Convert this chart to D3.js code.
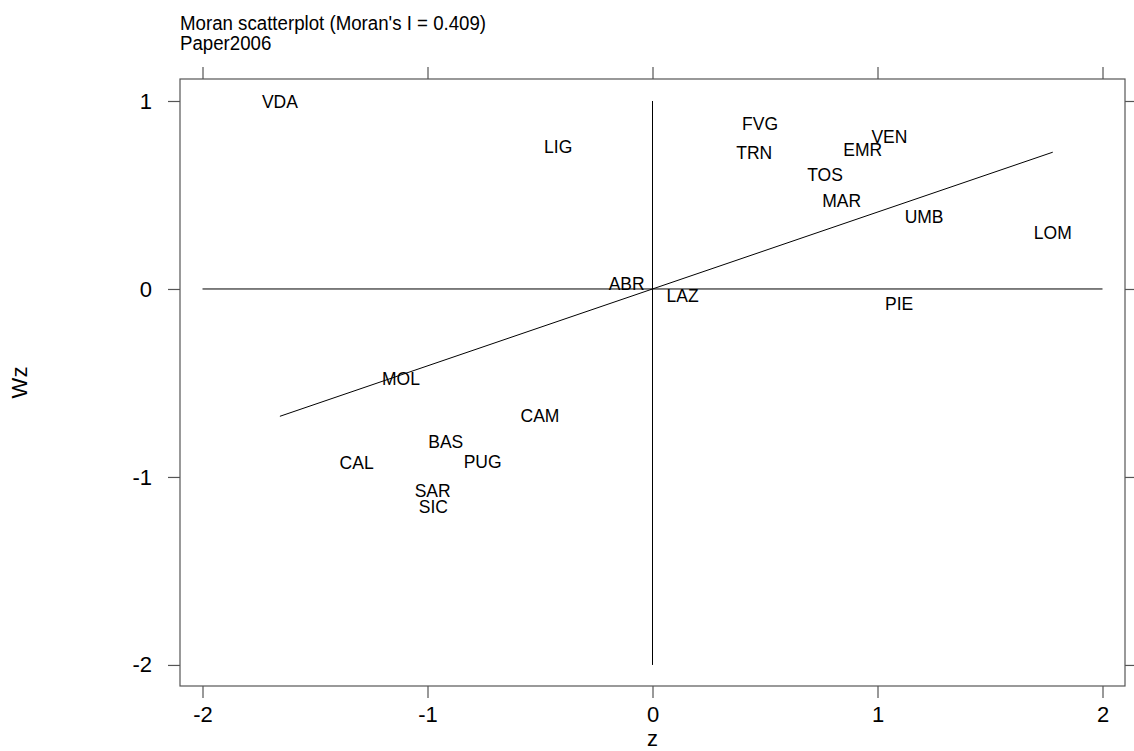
<!DOCTYPE html>
<html>
<head>
<meta charset="utf-8">
<script src="https://cdn.jsdelivr.net/npm/d3@7"></script>
<style>
  html, body { margin: 0; padding: 0; background: #ffffff; }
  svg { display: block; font-family: "Liberation Sans", Arial, Helvetica, sans-serif; }
  .frame { fill: none; stroke: #555555; stroke-width: 1.2; }
  .axis path { display: none; }
  .axis line { stroke: #555555; stroke-width: 1.2; }
  .axis text { fill: #000000; font-size: 22px; font-family: "Liberation Sans", Arial, sans-serif; }
</style>
</head>
<body>
<svg id="chart" width="1134" height="751"></svg>
<script>
// Region codes and their standardised values (z) with the spatial lag (Wz)
const regions = ["VDA", "LIG", "FVG", "TRN", "VEN", "EMR", "TOS", "MAR", "UMB", "LOM",
                 "PIE", "ABR", "LAZ", "MOL", "CAM", "BAS", "PUG", "CAL", "SAR", "SIC"];
const zValues = [-1.656, -0.419, 0.478, 0.452, 1.053, 0.934, 0.767, 0.841, 1.207, 1.779,
                 1.096, -0.115, 0.134, -1.118, -0.500, -0.919, -0.755, -1.315, -0.977, -0.974];
const wzValues = [0.995, 0.754, 0.876, 0.725, 0.809, 0.739, 0.606, 0.470, 0.385, 0.296,
                  -0.080, 0.025, -0.037, -0.480, -0.674, -0.814, -0.918, -0.924, -1.073, -1.158];

// Moran's I = slope of the Wz ~ z regression line
const moranI = 0.409;
const titleLines = ["Moran scatterplot (Moran's I = " + moranI.toFixed(3) + ")", "Paper2006"];

// Axis ticks and reference line extents
const xTicks = [-2, -1, 0, 1, 2];
const yTicks = [1, 0, -1, -2];
const hLineZ = [-2, 2];
const vLineWz = [-2, 1];

const svg = d3.select("#chart");
const panel = { left: 180, right: 1125, top: 79, bottom: 686 };

const x = d3.scaleLinear().domain([-2.1, 2.1]).range([panel.left, panel.right]);
const y = d3.scaleLinear().domain([-2.112, 1.117]).range([panel.bottom, panel.top]);

// Title, two left-aligned lines in a slightly condensed face
svg.append("g").selectAll("text")
  .data(titleLines)
  .join("text")
  .attr("transform", (d, i) => `translate(${panel.left},${30 + i * 20}) scale(0.89,1)`)
  .attr("font-size", 21)
  .text(d => d);

// Ticks on all four sides, labels only bottom and left
svg.append("g").attr("class", "axis")
  .attr("transform", `translate(0,${panel.bottom})`)
  .call(d3.axisBottom(x).tickValues(xTicks).tickSize(12).tickPadding(8).tickFormat(d3.format("d")));
svg.append("g").attr("class", "axis")
  .attr("transform", `translate(0,${panel.top})`)
  .call(d3.axisTop(x).tickValues(xTicks).tickSize(12).tickFormat(""));
svg.append("g").attr("class", "axis")
  .attr("transform", `translate(${panel.left},0)`)
  .call(d3.axisLeft(y).tickValues(yTicks).tickSize(12).tickPadding(16).tickFormat(d3.format("d")));
svg.append("g").attr("class", "axis")
  .attr("transform", `translate(${panel.right},0)`)
  .call(d3.axisRight(y).tickValues(yTicks).tickSize(12).tickFormat(""));

// Tick text uses a true hyphen-minus, as printed
svg.selectAll(".axis text").text(function () { return this.textContent.replace("\u2212", "-"); });

// Panel frame
svg.append("rect").attr("class", "frame")
  .attr("x", panel.left).attr("y", panel.top)
  .attr("width", panel.right - panel.left).attr("height", panel.bottom - panel.top);

// Axis titles
svg.append("text")
  .attr("x", x(0)).attr("y", 746)
  .attr("text-anchor", "middle").attr("font-size", 22)
  .text("z");
svg.append("text")
  .attr("transform", `translate(27,${(panel.top + panel.bottom) / 2}) rotate(-90)`)
  .attr("text-anchor", "middle").attr("font-size", 22)
  .text("Wz");

// Reference lines through the origin
svg.append("line")
  .attr("x1", x(hLineZ[0])).attr("x2", x(hLineZ[1]))
  .attr("y1", y(0)).attr("y2", y(0))
  .attr("stroke", "#000").attr("stroke-width", 1);
svg.append("line")
  .attr("x1", x(0)).attr("x2", x(0))
  .attr("y1", y(vLineWz[0])).attr("y2", y(vLineWz[1]))
  .attr("stroke", "#000").attr("stroke-width", 1);

// Regression line Wz = I * z across the range of z
const zExtent = d3.extent(zValues);
svg.append("line")
  .attr("x1", x(zExtent[0])).attr("y1", y(moranI * zExtent[0]))
  .attr("x2", x(zExtent[1])).attr("y2", y(moranI * zExtent[1]))
  .attr("stroke", "#000").attr("stroke-width", 1);

// Region labels at (z, Wz)
svg.append("g").selectAll("text")
  .data(regions)
  .join("text")
  .attr("x", (d, i) => x(zValues[i]))
  .attr("y", (d, i) => y(wzValues[i]))
  .attr("dy", "0.35em")
  .attr("text-anchor", "middle")
  .attr("font-size", 17.5)
  .text(d => d);
</script>
</body>
</html>
